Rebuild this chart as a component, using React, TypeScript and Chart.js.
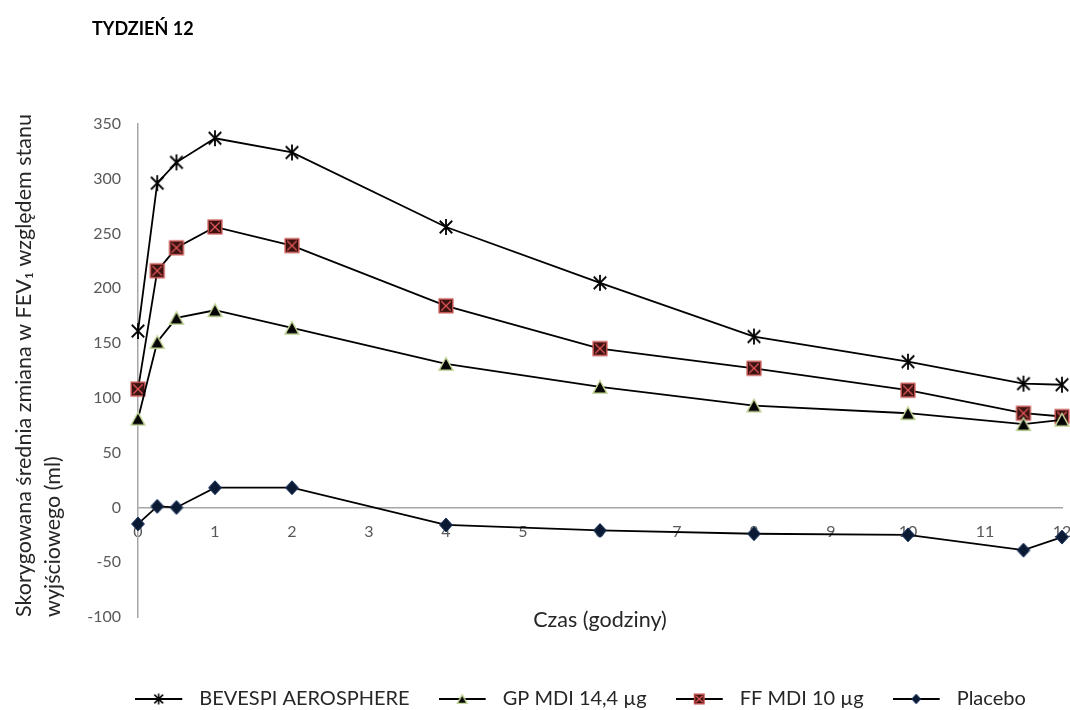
import React, { useEffect, useRef } from 'react';
import { Chart, registerables } from 'chart.js';

Chart.register(...registerables);

// ---- data ----
const hours = [0, 0.25, 0.5, 1, 2, 4, 6, 8, 10, 11.5, 12];
const bevespi = [161, 296, 315, 337, 324, 256, 205, 156, 133, 113, 112];
const gpMdi = [81, 151, 173, 180, 164, 131, 110, 93, 86, 76, 80];
const ffMdi = [108, 216, 237, 256, 239, 184, 145, 127, 107, 86, 83];
const placebo = [-15, 1, 0, 18, 18, -16, -21, -24, -25, -39, -27];

const seriesLabels = ['BEVESPI AEROSPHERE', 'GP MDI 14,4 µg', 'FF MDI 10 µg', 'Placebo'];
const chartTitle = 'TYDZIEŃ 12';
const xTitle = 'Czas (godziny)';
const yTitle = ['Skorygowana średnia zmiana w FEV₁ względem stanu', 'wyjściowego (ml)'];
const xMin = 0;
const xMax = 12;
const yMin = -100;
const yMax = 350;
const yStep = 50;

type Kind = 'star' | 'triangle' | 'square' | 'diamond';
const kinds: Kind[] = ['star', 'triangle', 'square', 'diamond'];

function drawMarker(ctx: CanvasRenderingContext2D, kind: Kind, cx: number, cy: number, s: number) {
  ctx.save();
  ctx.lineJoin = 'miter';
  if (kind === 'star') {
    const r = 8 * s;
    const d = r * 0.78;
    ctx.strokeStyle = '#000';
    ctx.lineWidth = 1.8 * Math.max(s, 0.85);
    ctx.beginPath();
    ctx.moveTo(cx, cy - r);
    ctx.lineTo(cx, cy + r);
    ctx.moveTo(cx - d, cy - d);
    ctx.lineTo(cx + d, cy + d);
    ctx.moveTo(cx + d, cy - d);
    ctx.lineTo(cx - d, cy + d);
    ctx.stroke();
  } else if (kind === 'triangle') {
    const w = 7 * s;
    const h = 6.3 * s;
    ctx.beginPath();
    ctx.moveTo(cx, cy - h);
    ctx.lineTo(cx + w, cy + h);
    ctx.lineTo(cx - w, cy + h);
    ctx.closePath();
    ctx.fillStyle = '#050505';
    ctx.fill();
    ctx.strokeStyle = '#c4d79b';
    ctx.lineWidth = 1.4;
    ctx.stroke();
  } else if (kind === 'square') {
    const h = 6.8 * s;
    ctx.fillStyle = '#3a1212';
    ctx.fillRect(cx - h, cy - h, 2 * h, 2 * h);
    ctx.strokeStyle = '#c0504d';
    ctx.lineWidth = 1.5;
    ctx.strokeRect(cx - h, cy - h, 2 * h, 2 * h);
    ctx.strokeStyle = '#e05555';
    ctx.lineWidth = 1.3;
    const k = h * 0.7;
    ctx.beginPath();
    ctx.moveTo(cx - k, cy - k);
    ctx.lineTo(cx + k, cy + k);
    ctx.moveTo(cx + k, cy - k);
    ctx.lineTo(cx - k, cy + k);
    ctx.stroke();
  } else {
    const r = 7 * s;
    ctx.beginPath();
    ctx.moveTo(cx, cy - r);
    ctx.lineTo(cx + r * 0.92, cy);
    ctx.lineTo(cx, cy + r);
    ctx.lineTo(cx - r * 0.92, cy);
    ctx.closePath();
    ctx.fillStyle = '#0b1a33';
    ctx.fill();
    ctx.strokeStyle = '#1f3864';
    ctx.lineWidth = 1;
    ctx.stroke();
  }
  ctx.restore();
}

function makeMarker(kind: Kind): HTMLCanvasElement {
  const c = document.createElement('canvas');
  c.width = 20;
  c.height = 20;
  const ctx = c.getContext('2d')!;
  drawMarker(ctx, kind, 10, 10, 1);
  return c;
}

function makeLegendIcon(kind: Kind): HTMLCanvasElement {
  const c = document.createElement('canvas');
  c.width = 54;
  c.height = 20;
  const ctx = c.getContext('2d')!;
  ctx.strokeStyle = '#000';
  ctx.lineWidth = 1.8;
  ctx.beginPath();
  ctx.moveTo(0, 10);
  ctx.lineTo(47, 10);
  ctx.stroke();
  drawMarker(ctx, kind, 23.5, 10, 0.7);
  return c;
}

const toPoints = (vals: number[]) => vals.map((v, i) => ({ x: hours[i], y: v }));

// widen the y-axis label clip area to the left after layout, so "-100" is not cut off
const widenYAxis = {
  id: 'widenYAxis',
  afterLayout(chart: any) {
    const y = chart.scales.y;
    if (y) y.left -= 20;
  },
};

export default function App() {
  const ref = useRef<HTMLCanvasElement>(null);

  useEffect(() => {
    if (!ref.current) return;
    const markers = kinds.map(makeMarker);
    const legendIcons = kinds.map(makeLegendIcon);
    const series = [bevespi, gpMdi, ffMdi, placebo];
    const font = 'Lato';

    const chart = new Chart(ref.current, {
      type: 'line',
      data: {
        datasets: series.map((vals, i) => ({
          label: seriesLabels[i],
          data: toPoints(vals),
          borderColor: '#000',
          backgroundColor: '#000',
          borderWidth: 1.8,
          tension: 0,
          pointStyle: markers[i],
          pointRadius: 6,
          clip: false as any,
        })),
      },
      plugins: [widenYAxis],
      options: {
        responsive: false,
        animation: false,
        layout: { padding: { left: 92, right: 1, top: 0, bottom: -9 } },
        plugins: {
          title: {
            display: true,
            text: chartTitle,
            align: 'start',
            color: '#000',
            font: { family: font, size: 18, weight: 'bold', lineHeight: 1.2 },
            padding: { top: 18.2, bottom: 84.2 },
          },
          legend: {
            position: 'bottom',
            labels: {
              usePointStyle: true,
              pointStyleWidth: 54,
              padding: 29,
              color: '#262626',
              font: { family: font, size: 20 },
              generateLabels: (c: any) => {
                const items = (Chart.defaults.plugins.legend.labels as any).generateLabels(c);
                return items.map((it: any, i: number) => ({ ...it, pointStyle: legendIcons[i] }));
              },
            },
          },
          tooltip: { enabled: false },
        },
        scales: {
          x: {
            type: 'linear',
            position: { y: 0 } as any,
            min: xMin,
            max: xMax,
            grid: { display: true, drawOnChartArea: false, drawTicks: false },
            border: { display: true, color: '#a6a6a6', width: 1.5 },
            ticks: {
              stepSize: 1,
              padding: 15,
              color: '#595959',
              font: { family: font, size: 16 },
              maxRotation: 0,
              autoSkip: false,
            },
            afterFit: (s: any) => {
              s.paddingLeft = 8;
              s.paddingRight = 8;
            },
          },
          x2: {
            type: 'linear',
            position: 'bottom',
            min: xMin,
            max: xMax,
            grid: { display: false },
            border: { display: false },
            ticks: { display: false },
            title: {
              display: true,
              text: xTitle,
              color: '#262626',
              font: { family: font, size: 21.5, lineHeight: 1.2 },
              padding: { top: 0, bottom: 27.1 },
            },
            afterFit: (s: any) => {
              s.height = 43;
            },
          },
          y: {
            type: 'linear',
            position: 'left',
            min: yMin,
            max: yMax,
            grid: { display: true, drawOnChartArea: false, drawTicks: false },
            border: { display: true, color: '#a6a6a6', width: 1.5 },
            ticks: {
              stepSize: yStep,
              padding: 17,
              color: '#595959',
              font: { family: font, size: 16 },
            },
            title: {
              display: true,
              text: yTitle,
              align: 'start',
              color: '#262626',
              font: { family: font, size: 21.5, lineHeight: 1.37 },
              padding: { top: -62.7, bottom: 0 },
            },
            afterFit: (s: any) => {
              s.width = 46;
            },
          },
        },
      },
    });
    return () => chart.destroy();
  }, []);

  return (
    <div style={{ position: 'absolute', left: 0, top: 0, width: 1070, height: 710, background: '#fff' }}>
      <canvas ref={ref} width={1070} height={710} style={{ display: 'block' }} />
    </div>
  );
}
